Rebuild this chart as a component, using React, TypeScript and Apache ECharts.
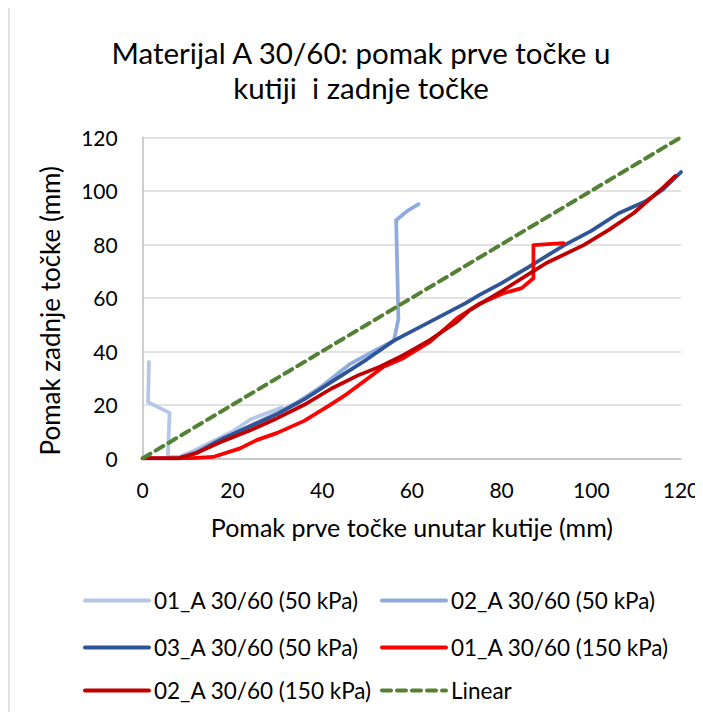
import React, { useEffect, useRef } from "react";
import * as echarts from "echarts";

const titleLines = ["Materijal A 30/60: pomak prve točke u", "kutiji  i zadnje točke"];
const xAxisTitle = "Pomak prve točke unutar kutije (mm)";
const yAxisTitle = "Pomak zadnje točke (mm)";
const seriesNames = [
  "01_A 30/60 (50 kPa)",
  "02_A 30/60 (50 kPa)",
  "03_A 30/60 (50 kPa)",
  "01_A 30/60 (150 kPa)",
  "02_A 30/60 (150 kPa)",
  "Linear",
];
const seriesColors = ["#B4C7E7", "#8FAADC", "#2F5597", "#FF0000", "#C00000", "#548235"];

const s01_50: number[][] = [
  [1.4, 36], [1.2, 21], [6, 17], [5.6, 0.5], [8, 0.5], [11, 2.5], [14, 5], [17, 7.5],
  [20, 10], [24, 14.5], [27, 16.5], [31, 19],
];
const s02_50: number[][] = [
  [0, 0], [8, 0], [12, 2.5], [16, 6], [20, 9], [25, 13], [30, 17], [35, 21.5],
  [40, 27], [46, 35], [52, 40.5], [56, 44], [57, 52], [56.5, 89], [59, 92.5], [61.5, 95],
];
const s03_50: number[][] = [
  [0, 0], [8, 0], [12, 2], [18, 7.5], [24, 12], [30, 16.5], [36, 22], [42, 28.5],
  [50, 37], [56, 44], [64, 51], [72, 58], [75, 61], [80, 65.5], [86, 71.5], [94, 79.7],
  [100, 85], [106, 91.5], [112, 96], [116, 100.5], [120, 107],
];
const s01_150: number[][] = [
  [0, 0], [10, 0], [15.7, 0.5], [21.7, 3.7], [25.4, 6.8], [30, 9.5], [36, 14],
  [41.8, 20], [45.5, 24], [49.2, 28.6], [53.7, 34.2], [58.1, 37.4], [64.1, 43.6],
  [70, 52.3], [75.2, 57.9], [80.4, 61.7], [84.5, 63.6], [87.1, 67.3], [87.1, 79.7],
  [93.8, 80.4],
];
const s02_150: number[][] = [
  [0, 0], [8, 0], [12, 2], [18, 6.5], [24, 10.5], [30, 15], [36, 20], [42, 26],
  [48, 31], [53, 34.3], [58, 38.5], [64, 44.2], [70, 51], [73, 55.5], [80.4, 62.9],
  [86.4, 69.2], [90, 73], [98.3, 79.7], [104, 85.5], [109.4, 91.6], [115.4, 100.3],
  [118.7, 105.5],
];
const sLinear: number[][] = [[0, 0], [120, 120]];

const allData = [s01_50, s02_50, s03_50, s01_150, s02_150, sLinear];

const legendPos = [
  { left: 83, top: 589 },
  { left: 380, top: 589 },
  { left: 83, top: 636 },
  { left: 380, top: 636 },
  { left: 83, top: 679 },
  { left: 380, top: 679 },
];

const FONT = "Lato, 'Open Sans', sans-serif";

export default function App() {
  const ref = useRef<HTMLDivElement>(null);
  useEffect(() => {
    if (!ref.current) return;
    const chart = echarts.init(ref.current, undefined, { renderer: "svg" });
    chart.setOption({
      animation: false,
      backgroundColor: "#ffffff",
      textStyle: { fontFamily: FONT },
      graphic: [
        {
          type: "line",
          shape: { x1: 9, y1: 0, x2: 9, y2: 720 },
          style: { stroke: "#D9D9D9", lineWidth: 1.5 },
        },
        {
          type: "text",
          x: 361,
          y: 52,
          style: {
            text: titleLines[0],
            fontFamily: FONT,
            fontSize: 29.5,
            fill: "#000000",
            textAlign: "center",
            textVerticalAlign: "middle",
          },
        },
        {
          type: "text",
          x: 361,
          y: 87,
          style: {
            text: titleLines[1],
            fontFamily: FONT,
            fontSize: 29.5,
            fill: "#000000",
            textAlign: "center",
            textVerticalAlign: "middle",
          },
        },
      ],
      legend: seriesNames.map((n, i) => ({
        data: [n],
        left: legendPos[i].left,
        top: legendPos[i].top,
        padding: 0,
        itemWidth: 64,
        itemHeight: 14,
        itemStyle: { opacity: 0 },
        lineStyle: { width: 4 },
        textStyle: { fontFamily: FONT, fontSize: 22.5, color: "#000", lineHeight: 22 },
      })),
      grid: { left: 142.7, right: 22, top: 137.3, bottom: 261.7, containLabel: false },
      xAxis: {
        type: "value",
        min: 0,
        max: 120,
        interval: 20,
        name: xAxisTitle,
        nameLocation: "middle",
        nameGap: 56,
        nameTextStyle: { fontFamily: FONT, fontSize: 25, color: "#000" },
        axisLine: { show: true, lineStyle: { color: "#BFBFBF", width: 1.5 } },
        axisTick: { show: false },
        axisLabel: { fontFamily: FONT, fontSize: 21, color: "#000", margin: 21 },
        splitLine: { show: false },
      },
      yAxis: {
        type: "value",
        min: 0,
        max: 120,
        interval: 20,
        name: yAxisTitle,
        nameLocation: "middle",
        nameGap: 80,
        nameRotate: 90,
        nameTextStyle: { fontFamily: FONT, fontSize: 26, color: "#000", padding: [0, 26, 0, 0] },
        axisLine: { show: true, lineStyle: { color: "#BFBFBF", width: 1.5 } },
        axisTick: { show: false },
        axisLabel: { fontFamily: FONT, fontSize: 21, color: "#000", margin: 25 },
        splitLine: { show: true, lineStyle: { color: "#D9D9D9", width: 1.5 } },
      },
      series: seriesNames.map((n, i) => ({
        name: n,
        type: "line",
        data: allData[i],
        showSymbol: false,
        symbol: "none",
        smooth: false,
        z: i === 5 ? 10 : 2 + i,
        lineStyle: {
          color: seriesColors[i],
          width: i === 5 ? 4 : 3.75,
          type: i === 5 ? [9, 6] : "solid",
          cap: "round",
          join: "round",
        },
        itemStyle: { color: seriesColors[i] },
      })),
    });
    return () => chart.dispose();
  }, []);
  return <div ref={ref} style={{ width: 703, height: 720, margin: -8 }} />;
}
